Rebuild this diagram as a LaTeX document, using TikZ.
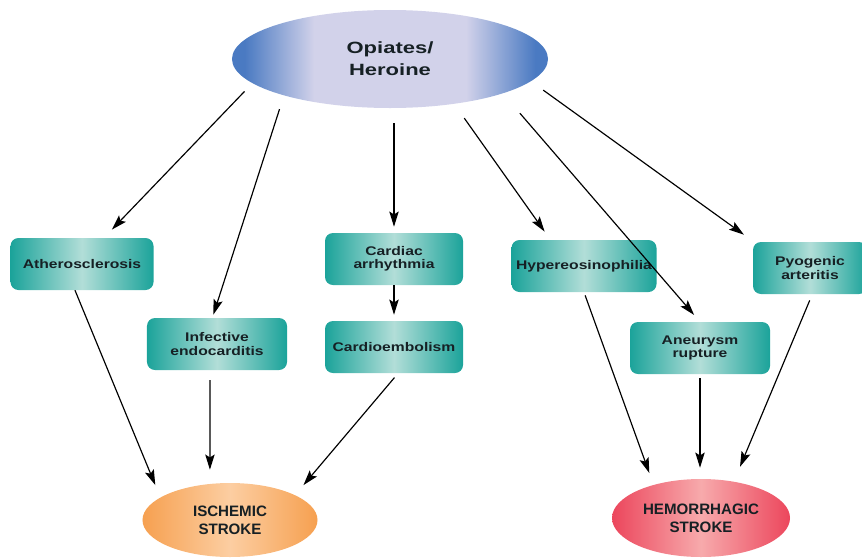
\documentclass[tikz,border=0pt]{standalone}
\usepackage{fontspec}
\setmainfont{Liberation Sans}
\newfontfamily\boxfont[FakeStretch=1.25]{Liberation Sans}
\newfontfamily\topfont[FakeStretch=1.35]{Liberation Sans}
\usetikzlibrary{arrows.meta,shapes.geometric}

\definecolor{opiedge}{RGB}{74,122,194}
\definecolor{opimid}{RGB}{210,210,234}
\definecolor{tealedge}{RGB}{27,163,154}
\definecolor{tealmid}{RGB}{178,222,216}
\definecolor{ischedge}{RGB}{246,160,80}
\definecolor{ischmid}{RGB}{252,206,162}
\definecolor{hemedge}{RGB}{236,70,92}
\definecolor{hemmid}{RGB}{247,170,172}
\definecolor{labeltext}{RGB}{22,32,36}

\pgfdeclarehorizontalshading{opishade}{100bp}{color(0bp)=(opiedge); color(25bp)=(opiedge);
    color(27bp)=(opiedge); color(38bp)=(opimid); color(62bp)=(opimid);
    color(73bp)=(opiedge); color(75bp)=(opiedge); color(100bp)=(opiedge)}

\begin{document}
\begin{tikzpicture}[x=0.03cm,y=-0.03cm,
    topnode/.style={ellipse, inner sep=0pt, minimum width=9.48cm, minimum height=2.94cm,
        shading=opishade,
        font=\topfont\bfseries\fontsize{13.9}{18.8}\selectfont, text=labeltext, align=center},
    causebox/.style={rectangle, rounded corners=0.24cm, inner sep=0pt, minimum height=1.56cm,
        left color=tealedge, right color=tealedge, middle color=tealmid,
        font=\boxfont\bfseries\fontsize{10.7}{11.4}\selectfont, text=labeltext, align=center},
    strokenode/.style={ellipse, inner sep=0pt,
        font=\bfseries\fontsize{12.9}{15.6}\selectfont, text=labeltext, align=center},
    arr/.style={-{Stealth[length=13pt,width=8pt,inset=2.5pt]}, line width=1pt, black}]

\useasboundingbox (0,0) rectangle (862,558);

% source
\node[topnode] (opi) at (390,59) {Opiates/\\Heroine};

% mechanisms
\node[causebox, minimum width=4.29cm] (ath) at (82,264) {Atherosclerosis};
\node[causebox, minimum width=4.2cm] (inf) at (217,344) {Infective\\endocarditis};
\node[causebox, minimum width=4.14cm] (arrh) at (394,259) {Cardiac\\arrhythmia};
\node[causebox, minimum width=4.14cm] (emb) at (394,347) {Cardioembolism};
\node[causebox, minimum width=4.35cm] (hyp) at (584,266) {Hypereosinophilia};
\node[causebox, minimum width=4.2cm] (aneu) at (700,348) {Aneurysm\\rupture};
\node[causebox, minimum width=3.42cm] (pyo) at (810,268) {Pyogenic\\arteritis};

% outcomes
\node[strokenode, minimum width=5.25cm, minimum height=2.22cm,
    left color=ischedge, right color=ischedge, middle color=ischmid] (isch) at (230,520) {ISCHEMIC\\STROKE};
\node[strokenode, minimum width=5.34cm, minimum height=2.34cm,
    left color=hemedge, right color=hemedge, middle color=hemmid] (hem) at (701,518) {HEMORRHAGIC\\STROKE};

% from opiates
\draw[arr, shorten <=0.34cm, shorten >=0.34cm] (opi.190) -- (ath.50);
\draw[arr, shorten <=0.43cm, shorten >=0.1cm] (opi.199) -- (inf.100);
\draw[arr, shorten <=0.45cm, shorten >=0.18cm] (arrh.north |- opi.south) -- (arrh.north);
\draw[arr, shorten <=0.52cm, shorten >=0.3cm] (opi.325) -- (hyp.142);
\draw[arr, shorten <=0.78cm, shorten >=0.27cm] (opi.343) -- (aneu.north);
\draw[arr, shorten <=0.45cm, shorten >=0.36cm] (opi.351) -- (pyo.155);
\draw[arr, shorten >=0.18cm] (arrh.south) -- (emb.north);

% to ischemic stroke
\draw[arr, shorten >=0.4cm] (ath.255) -- (isch.162);
\draw[arr, shorten <=0.3cm, shorten >=0.42cm] (inf.255) -- (isch.119);
\draw[arr, shorten <=0.17cm, shorten >=0.39cm] (emb.279) -- (isch.21);

% to hemorrhagic stroke
\draw[arr, shorten <=0.1cm, shorten >=0.375cm] (hyp.270) -- (hem.145);
\draw[arr, shorten <=0.12cm, shorten >=0.33cm] (aneu.south) -- (aneu.south |- hem.north);
\draw[arr, shorten <=0.2cm, shorten >=0.48cm] (pyo.275) -- (hem.48);

\end{tikzpicture}
\end{document}
